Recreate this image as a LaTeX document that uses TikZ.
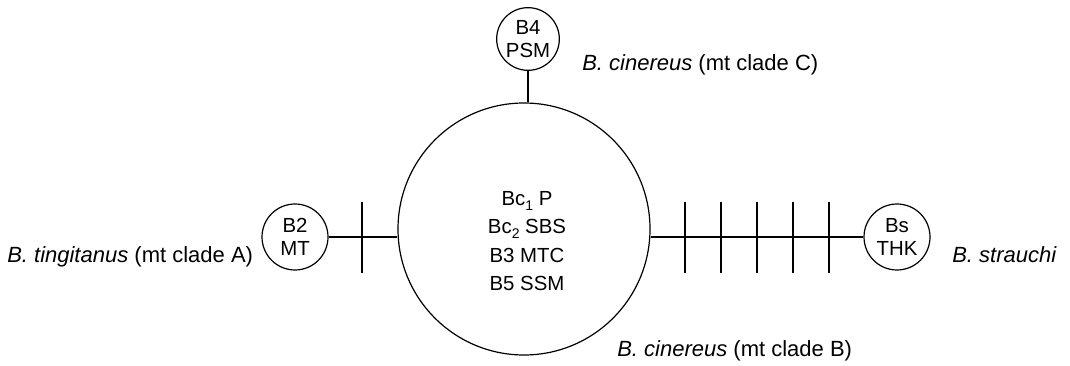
\documentclass[tikz,border=0pt]{standalone}
\usepackage{fontspec}
\setmainfont{Liberation Sans}
\newcommand\mysubs[1]{\raisebox{-0.45ex}{\fontsize{10.5}{10.5}\selectfont #1}}
\begin{document}
\begin{tikzpicture}[x=0.75pt,y=-0.75pt,
  hap/.style={circle,draw,line width=0.9pt,inner sep=0pt,minimum size=49.5pt,align=center,font=\fontsize{15.3}{17.5}\selectfont},
  bighap/.style={circle,draw,line width=0.9pt,inner sep=0pt,minimum size=189pt},
  lbl/.style={inner sep=0pt,anchor=base west,font=\fontsize{16.5}{20}\selectfont},
  conn/.style={line width=0.9pt},
  tick/.style={line width=0.9pt}]
\useasboundingbox (0,0) rectangle (1070,366);
\node[bighap] (big) at (524,229) {};
\node[inner sep=0pt,align=center,font=\fontsize{15.3}{21.2}\selectfont] (bigtxt) at (527,241) {Bc\mysubs{1} P\\Bc\mysubs{2} SBS\\B3 MTC\\B5 SSM};
\node[hap] (B2) at (295,237) {B2\\MT};
\node[hap,minimum size=47pt] (B4) at (528,39) {B4\\PSM};
\node[hap] (Bs) at (897,237) {Bs\\THK};
\draw[conn] (B2.east) -- (B2.east -| big.west);
\draw[conn] (big.east |- Bs.west) -- (Bs.west);
\draw[conn] (B4.south) -- (B4.south |- big.north);
\foreach \x in {362} \draw[tick] (\x,202) -- (\x,273);
\foreach \x in {685,721,757,793,829} \draw[tick] (\x,202) -- (\x,273);
\node[lbl] (lA) at (7,263) {\textit{B. tingitanus} (mt clade A)};
\node[lbl] (lS) at (952,263) {\textit{B. strauchi}};
\node[lbl] (lB) at (617,356) {\textit{B. cinereus} (mt clade B)};
\node[lbl] (lC) at (582,71) {\textit{B. cinereus} (mt clade C)};
\end{tikzpicture}
\end{document}
